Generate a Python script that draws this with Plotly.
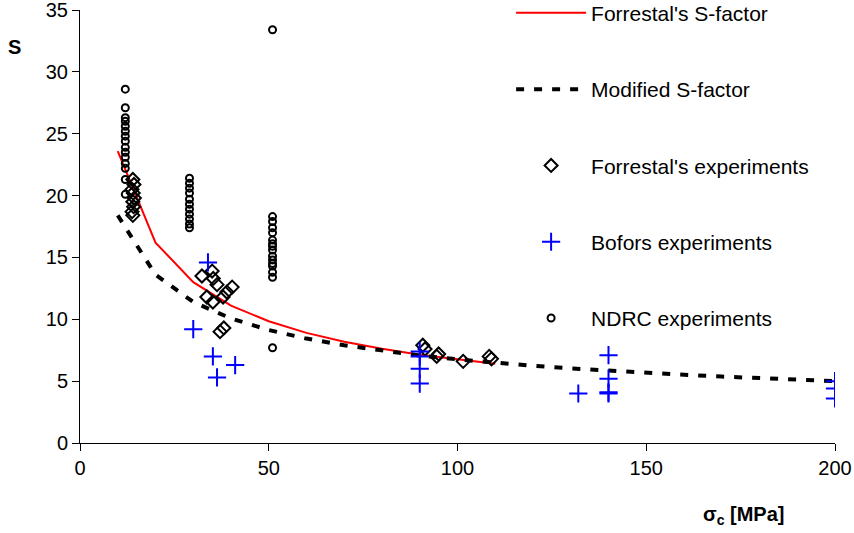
import plotly.graph_objects as go

# Forrestal's S-factor curve
fs_x = [10, 20, 30, 40, 50, 60, 70, 80, 90, 100, 110]
fs_y = [23.6, 16.2, 13.0, 11.1, 9.84, 8.90, 8.19, 7.62, 7.14, 6.75, 6.40]

# Modified S-factor curve
ms_x = [10, 20, 30, 40, 50, 60, 70, 80, 90, 100, 110, 120, 130, 140, 150, 160, 170, 180, 190, 200]
ms_y = [18.4, 13.6, 11.4, 10.07, 9.13, 8.44, 7.90, 7.45, 7.07, 6.76, 6.48, 6.24, 6.03, 5.84, 5.67, 5.51, 5.37, 5.24, 5.11, 5.0]

# Forrestal's experiments
fe_x = [14, 14.3, 13.8, 14.1, 14.4, 14.0, 14.2, 13.8, 14.0,
        32.3, 35.0, 35.3, 36.3, 40.3, 38.9, 33.6, 35.2, 37.9, 37.1, 38.1,
        90.8, 91.4, 94.5, 95.0, 101.5, 108.4, 109.0]
fe_y = [21.3, 20.9, 20.5, 20.2, 19.8, 19.5, 19.1, 18.7, 18.4,
        13.5, 13.9, 13.3, 12.8, 12.6, 12.2, 11.8, 11.4, 11.8, 9.0, 9.3,
        7.9, 7.6, 7.0, 7.2, 6.6, 7.0, 6.8]

# Bofors experiments
bo_x = [33.9, 30.0, 35.2, 36.3, 41.1,
        90, 90, 90, 90,
        132, 140, 140, 140, 140,
        200, 200, 200]
bo_y = [14.6, 9.2, 7.0, 5.3, 6.3,
        7.4, 7.0, 6.0, 4.8,
        4.0, 7.1, 5.2, 4.1, 4.0,
        5.0, 4.4, 3.6]

# NDRC experiments
nd_x = [12] * 15 + [29] * 11 + [51] * 16
nd_y = [28.6, 27.1, 26.3, 26.0, 25.6, 25.2, 24.8, 24.4, 23.9, 23.5, 23.1, 22.6, 22.2, 21.3, 20.1,
        21.4, 21.0, 20.6, 20.2, 19.7, 19.3, 18.9, 18.5, 18.1, 17.7, 17.4,
        33.4, 18.3, 17.9, 17.4, 17.0, 16.4, 16.1, 15.9, 15.6, 15.1, 14.8, 14.5, 14.3, 13.8, 13.4, 7.7]

FONT = "Liberation Sans, Arial, sans-serif"

fig = go.Figure()
fig.add_trace(go.Scatter(x=fs_x, y=fs_y, mode="lines", name="Forrestal's S-factor",
                         line=dict(color="red", width=2), legendgroup="a"))
fig.add_trace(go.Scatter(x=ms_x, y=ms_y, mode="lines", name="Modified S-factor",
                         line=dict(color="black", width=4, dash="8px,10px"), legendgroup="b"))
fig.add_trace(go.Scatter(x=fe_x, y=fe_y, mode="markers", name="Forrestal's experiments",
                         marker=dict(symbol="diamond-open", size=10, color="black",
                                     line=dict(width=2, color="black")), legendgroup="c"))
fig.add_trace(go.Scatter(x=bo_x, y=bo_y, mode="markers", name="Bofors experiments",
                         marker=dict(symbol="cross-thin-open", size=13, color="blue",
                                     line=dict(width=2, color="blue")), legendgroup="d"))
fig.add_trace(go.Scatter(x=nd_x, y=nd_y, mode="markers", name="NDRC experiments",
                         marker=dict(symbol="circle-open", size=7, color="black",
                                     line=dict(width=2, color="black")), legendgroup="e"))

fig.update_layout(
    width=854, height=533,
    margin=dict(l=80, r=19, t=10, b=90, autoexpand=False),
    paper_bgcolor="white", plot_bgcolor="white",
    font=dict(family=FONT, size=20, color="black"),
    showlegend=True,
    legend=dict(x=0.571, y=1.04, xanchor="left", yanchor="top", xref="paper", yref="paper",
                bgcolor="rgba(0,0,0,0)", font=dict(size=21, family=FONT), maxheight=1.0,
                tracegroupgap=46, itemwidth=70, traceorder="grouped"),
)
fig.update_xaxes(range=[0, 200], tickvals=[0, 50, 100, 150, 200], showgrid=False, zeroline=False,
                 showline=True, linecolor="black", linewidth=1, ticks="outside", ticklen=7,
                 tickcolor="black", tickfont=dict(size=20, family=FONT), automargin=False,
                 ticklabeloverflow="allow")
fig.update_yaxes(range=[0, 35], tickvals=[0, 5, 10, 15, 20, 25, 30, 35], showgrid=False, zeroline=False,
                 showline=True, linecolor="black", linewidth=1, ticks="outside", ticklen=7,
                 tickcolor="black", tickfont=dict(size=20, family=FONT), automargin=False,
                 ticklabeloverflow="allow")

fig.add_annotation(text="<b>S</b>", xref="paper", yref="paper", x=-80/755 + 14/755, y=1 - 37/433,
                   xanchor="center", yanchor="middle", showarrow=False, font=dict(size=20, family=FONT))
fig.add_annotation(text="<b>σ<sub>c</sub> [MPa]</b>", xref="paper", yref="paper",
                   x=(743 - 80) / 755, y=-(515 - 443) / 433, xanchor="center", yanchor="middle",
                   showarrow=False, font=dict(size=20, family=FONT))

fig.write_html("out.html")
